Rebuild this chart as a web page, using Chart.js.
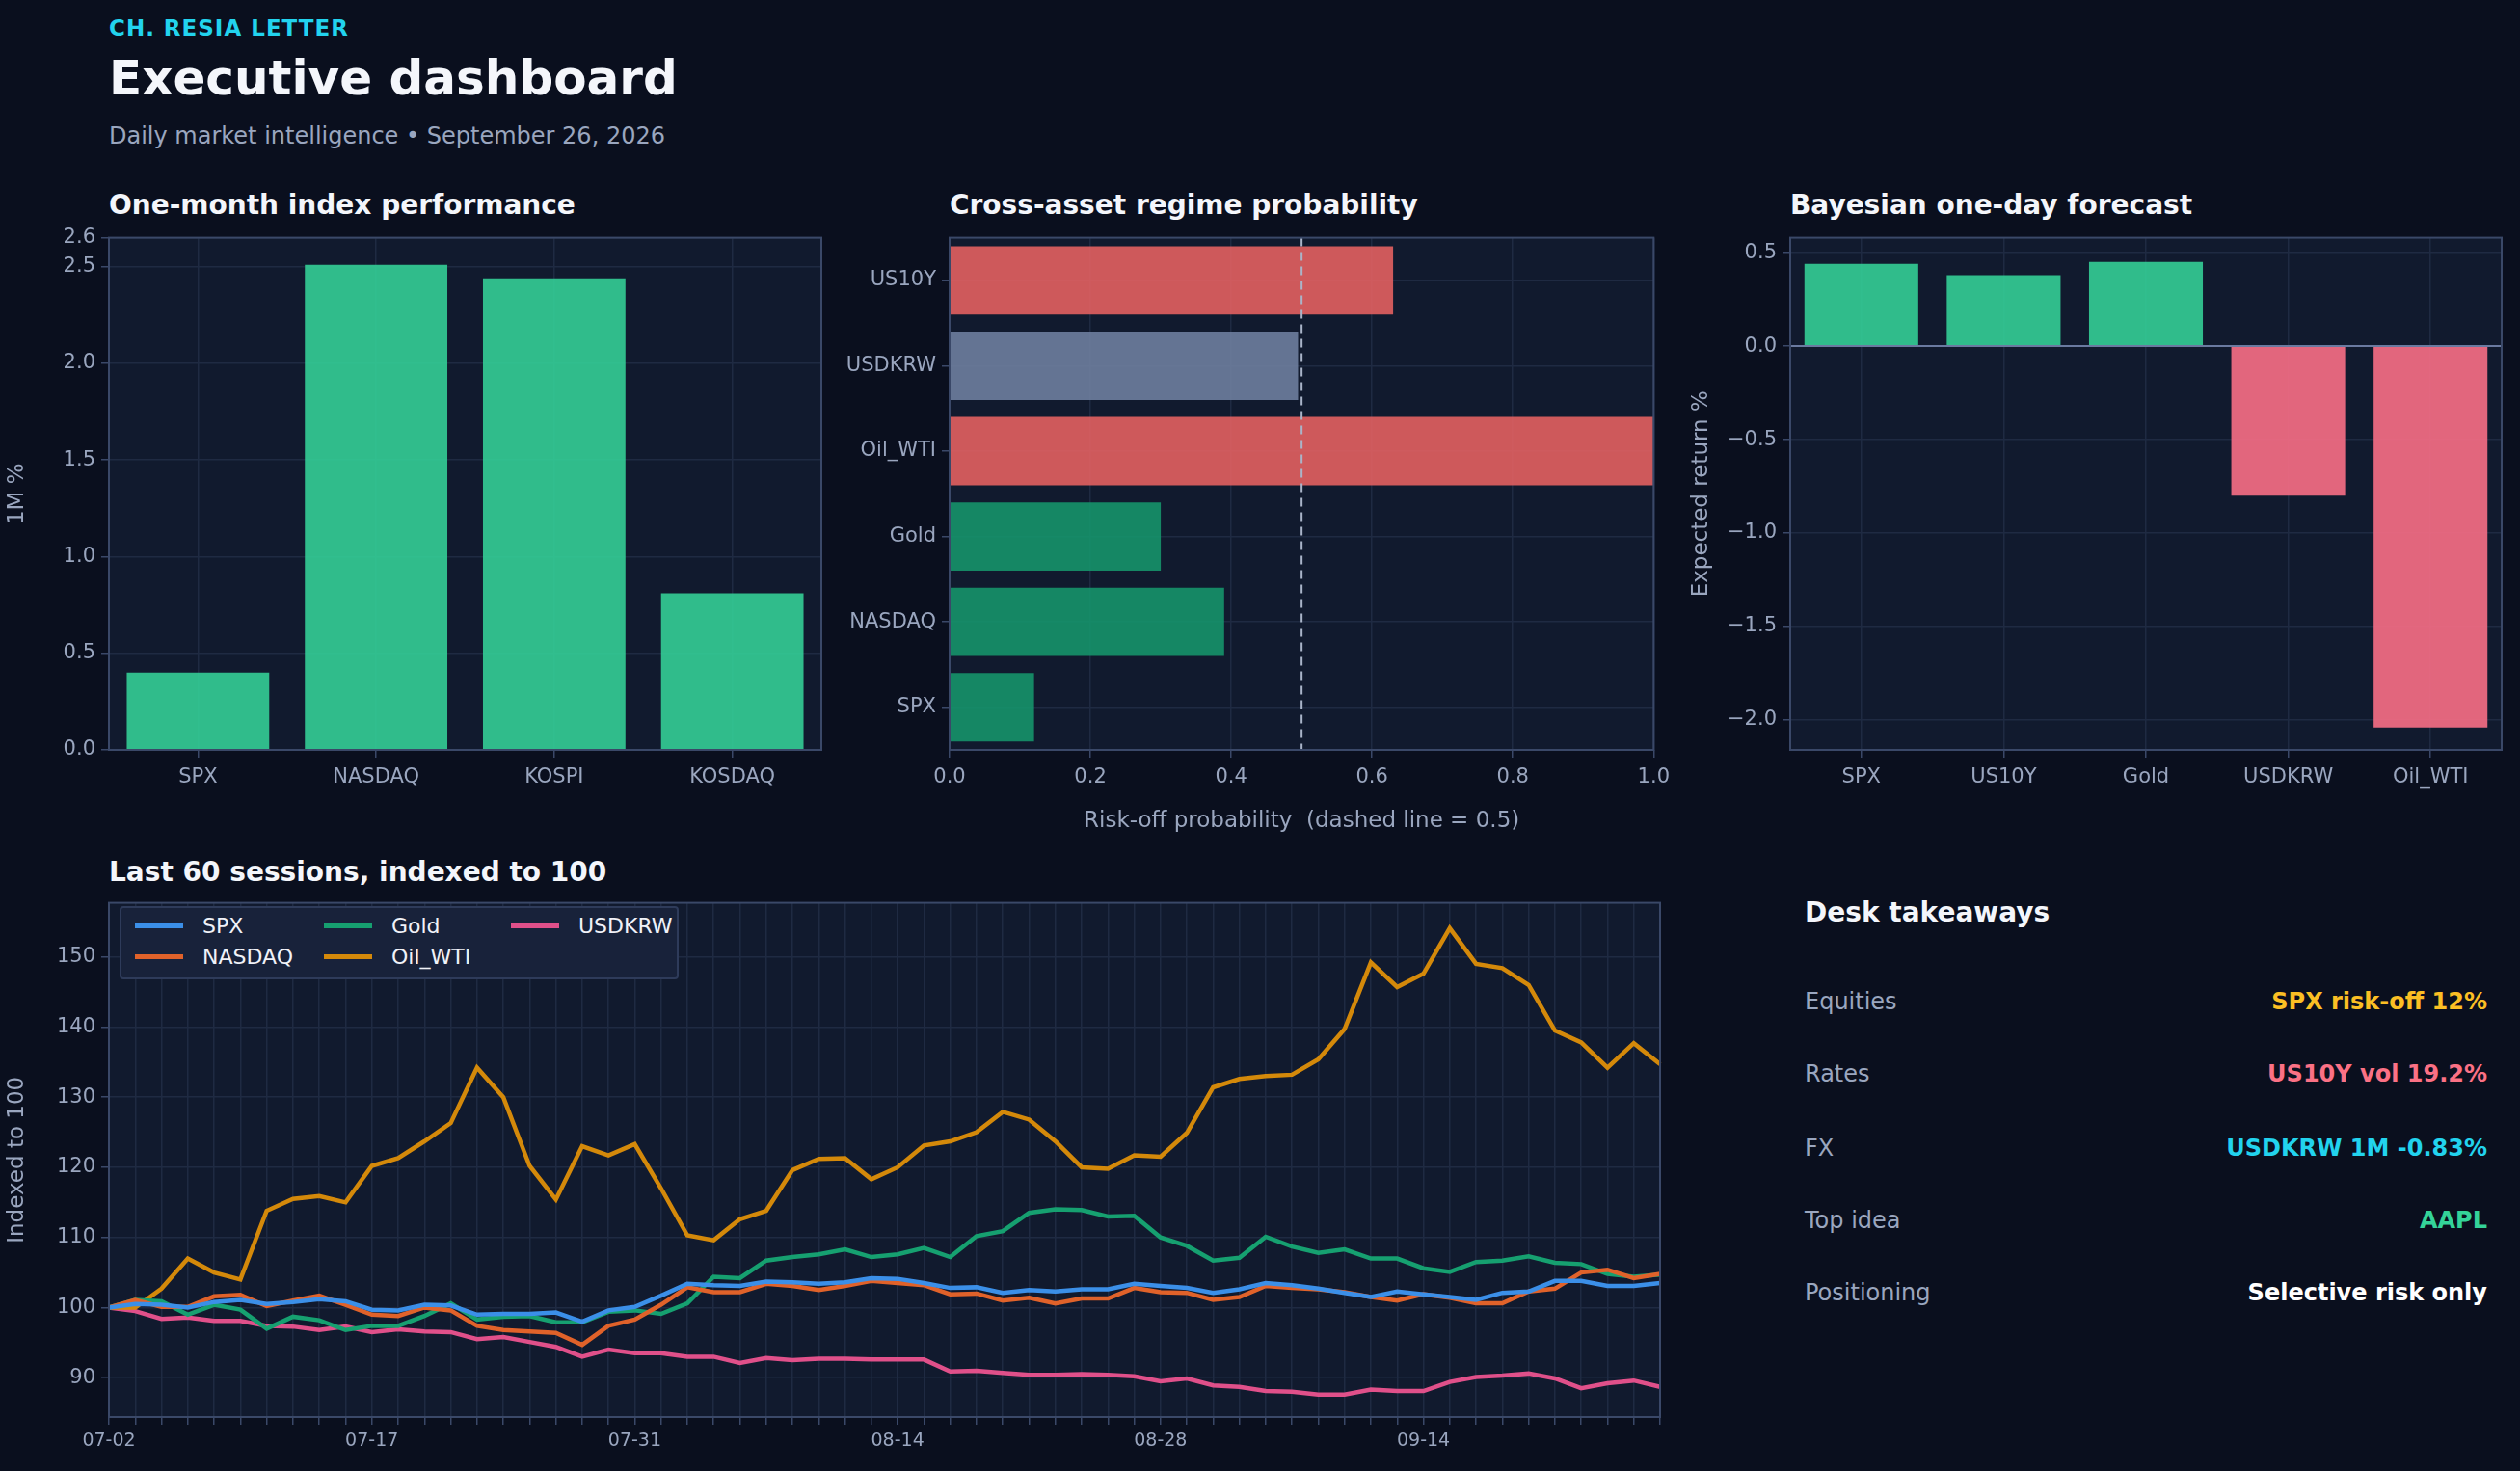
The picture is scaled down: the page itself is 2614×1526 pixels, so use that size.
<!DOCTYPE html>
<html><head><meta charset="utf-8">
<script src="https://cdn.jsdelivr.net/npm/chart.js@4/dist/chart.umd.min.js"></script>
<style>
body{margin:0;width:2614px;height:1526px;background:#0a0f1e;font-family:"DejaVu Sans",sans-serif;position:relative;overflow:hidden;color:#e8ecf4}
.abs{position:absolute}
.ttl{font-weight:bold;font-size:28px;color:#f4f6fb}
.row{position:absolute;left:1872px;width:708px;font-size:24px;display:flex;justify-content:space-between;color:#9aa6bf}
.row b{font-weight:bold}
.lg{position:absolute;left:124px;top:940px;width:576px;height:72px;background:#18223a;border:2px solid #2e3b5a;border-radius:4px;font-size:22px;color:#f0f2f8}
.lg span{position:absolute;display:flex;align-items:center}
.lg i{display:inline-block;width:50px;height:5px;margin-right:20px}
</style></head><body>
<div class="abs" style="left:113px;top:16px;font-size:23px;font-weight:bold;color:#22d3ee;letter-spacing:1px">CH. RESIA LETTER</div>
<div class="abs" style="left:113px;top:52px;font-size:50px;font-weight:bold;color:#f4f6fb">Executive dashboard</div>
<div class="abs" style="left:113px;top:127px;font-size:24px;color:#9aa6bf">Daily market intelligence • September 26, 2026</div>

<div class="abs ttl" style="left:113px;top:196px">One-month index performance</div>
<div class="abs ttl" style="left:985px;top:196px">Cross-asset regime probability</div>
<div class="abs ttl" style="left:1857px;top:196px">Bayesian one-day forecast</div>
<div class="abs ttl" style="left:113px;top:888px">Last 60 sessions, indexed to 100</div>

<div class="abs" style="left:0;top:228px;width:870px;height:602px"><canvas id="c1"></canvas></div>
<div class="abs" style="left:860px;top:228px;width:880px;height:642px"><canvas id="c2"></canvas></div>
<div class="abs" style="left:1747px;top:228px;width:867px;height:602px"><canvas id="c3"></canvas></div>
<div class="abs" style="left:0;top:918px;width:1740px;height:608px"><canvas id="c4"></canvas></div>

<div class="lg">
<span style="left:14px;top:6px"><i style="background:#3b8fe8"></i>SPX</span>
<span style="left:14px;top:38px"><i style="background:#e0622a"></i>NASDAQ</span>
<span style="left:210px;top:6px"><i style="background:#16a070"></i>Gold</span>
<span style="left:210px;top:38px"><i style="background:#d4890a"></i>Oil_WTI</span>
<span style="left:404px;top:6px"><i style="background:#e0508a"></i>USDKRW</span>
</div>

<div class="abs ttl" style="left:1872px;top:930px">Desk takeaways</div>
<div class="row" style="top:1025px"><span>Equities</span><b style="color:#fbbf24">SPX risk-off 12%</b></div>
<div class="row" style="top:1100px"><span>Rates</span><b style="color:#fb7185">US10Y vol 19.2%</b></div>
<div class="row" style="top:1177px"><span>FX</span><b style="color:#22d3ee">USDKRW 1M -0.83%</b></div>
<div class="row" style="top:1252px"><span>Top idea</span><b style="color:#34d399">AAPL</b></div>
<div class="row" style="top:1327px"><span>Positioning</span><b style="color:#ffffff">Selective risk only</b></div>

<script>
const perfLabels=['SPX','NASDAQ','KOSPI','KOSDAQ'];
const perfValues=[0.40,2.51,2.44,0.81];
const regimeLabels=['US10Y','USDKRW','Oil_WTI','Gold','NASDAQ','SPX'];
const regimeValues=[0.63,0.495,1.0,0.30,0.39,0.12];
const fcLabels=['SPX','US10Y','Gold','USDKRW','Oil_WTI'];
const fcValues=[0.44,0.38,0.45,-0.80,-2.04];
const dates=['07-02','07-03','07-06','07-07','07-08','07-09','07-10','07-13','07-14','07-15','07-17','07-20','07-21','07-22','07-23','07-24','07-27','07-28','07-29','07-30',
'07-31','08-03','08-04','08-05','08-06','08-07','08-10','08-11','08-12','08-13','08-14','08-17','08-18','08-19','08-20','08-21','08-24','08-25','08-26','08-27',
'08-28','08-31','09-01','09-02','09-03','09-04','09-07','09-08','09-09','09-10','09-14','09-15','09-16','09-17','09-18','09-21','09-22','09-23','09-24','09-25'];
const spx=[100,100.5,100.4,100,100.8,101.1,100.5,100.8,101.2,100.9,99.7,99.6,100.4,100.3,99,99.1,99.1,99.3,98,99.6,
100.1,101.7,103.4,103.2,103.1,103.7,103.6,103.4,103.6,104.2,104.1,103.5,102.8,102.9,102.1,102.5,102.3,102.6,102.6,103.4,
103.1,102.8,102.1,102.6,103.5,103.2,102.7,102.1,101.5,102.3,101.9,101.5,101.1,102.1,102.3,103.8,103.8,103.1,103.1,103.5];
const nasdaq=[100,101.1,100.1,100.1,101.6,101.8,100.2,101,101.7,100.4,99,98.8,100,99.6,97.4,96.8,96.6,96.4,94.7,97.4,
98.3,100.4,102.9,102.2,102.2,103.4,103.1,102.5,103.1,103.8,103.5,103.2,101.9,102,101,101.4,100.6,101.3,101.3,102.8,
102.2,102.1,101.1,101.5,103.1,102.8,102.6,102.2,101.5,101,101.9,101.4,100.6,100.6,102.3,102.7,105,105.4,104.2,104.8];
const gold=[100,101.1,100.9,99,100.4,99.7,97,98.7,98.2,96.8,97.4,97.4,98.8,100.6,98.3,98.7,98.8,97.9,97.9,99.4,
99.6,99.1,100.6,104.4,104.2,106.7,107.2,107.6,108.3,107.2,107.6,108.5,107.2,110.2,110.9,113.5,114,113.9,113,113.1,
110,108.8,106.7,107.1,110.1,108.7,107.8,108.3,107,107,105.6,105.1,106.5,106.7,107.3,106.4,106.2,104.8,104.4,104.7];
const oil=[100,100,102.7,107,105,104,113.8,115.5,115.9,115,120.2,121.3,123.7,126.3,134.2,130,120.2,115.4,123,121.7,
123.3,117,110.3,109.6,112.6,113.8,119.6,121.2,121.3,118.3,120,123.1,123.7,125,127.9,126.8,123.7,120,119.8,121.7,
121.5,124.9,131.4,132.6,133,133.2,135.4,139.7,149.2,145.7,147.6,154.1,149,148.4,146,139.5,137.8,134.2,137.7,134.7];
const usdkrw=[100,99.5,98.4,98.6,98.1,98.1,97.4,97.3,96.8,97.3,96.5,96.9,96.6,96.5,95.5,95.8,95.1,94.4,93,94,
93.5,93.5,93,93,92.1,92.8,92.5,92.7,92.7,92.6,92.6,92.6,90.9,91,90.7,90.4,90.4,90.5,90.4,90.2,
89.5,89.9,88.9,88.7,88.1,88,87.6,87.6,88.3,88.1,88.1,89.4,90.1,90.3,90.6,89.9,88.5,89.2,89.6,88.7];

Chart.defaults.font.family='"DejaVu Sans", sans-serif';
Chart.defaults.font.size=21;
Chart.defaults.color='#9aa6bf';
Chart.defaults.animation=false;
Chart.defaults.responsive=true;
Chart.defaults.maintainAspectRatio=false;
const GRID='#1f2a42', BORDER='#3a4868';
const bgPlug={id:'bg',beforeDraw(c){const a=c.chartArea,x=c.ctx;x.save();x.fillStyle='#111a2e';x.fillRect(a.left,a.top,a.right-a.left,a.bottom-a.top);x.restore();},
 afterDraw(c){const a=c.chartArea,x=c.ctx;x.save();x.strokeStyle=BORDER;x.lineWidth=2;x.strokeRect(a.left,a.top,a.right-a.left,a.bottom-a.top);x.restore();}};
const fixW=w=>s=>{s.width=w;}, fixH=h=>s=>{s.height=h;};
const axTitle=t=>({display:true,text:t,color:'#9aa6bf',font:{size:23}});
function grid(){return {color:GRID,lineWidth:1.5,tickColor:BORDER,tickLength:8,offset:false};}

new Chart(c1,{type:'bar',data:{labels:perfLabels,datasets:[{data:perfValues,backgroundColor:'rgba(52,211,153,0.88)',barPercentage:0.8,categoryPercentage:1}]},
options:{layout:{padding:{top:10,right:18}},plugins:{legend:{display:false},tooltip:{enabled:false}},
scales:{x:{grid:grid(),border:{display:false},afterFit:fixH(52),ticks:{padding:8}},
y:{min:0,max:2.65,ticks:{stepSize:0.5,callback:v=>v.toFixed(1),padding:6},grid:grid(),border:{display:false},afterFit:fixW(113),title:axTitle('1M %')}}},plugins:[bgPlug]});

const dashPlug={id:'dash',afterDatasetsDraw(c){const x=c.scales.x.getPixelForValue(0.5),a=c.chartArea,g=c.ctx;g.save();g.strokeStyle='#a9b4c8';g.lineWidth=2;g.setLineDash([9,6]);g.beginPath();g.moveTo(x,a.top);g.lineTo(x,a.bottom);g.stroke();g.restore();}};
new Chart(c2,{type:'bar',data:{labels:regimeLabels,datasets:[{data:regimeValues,backgroundColor:['rgba(232,98,98,0.88)','rgba(110,126,158,0.9)','rgba(232,98,98,0.88)','rgba(22,150,108,0.88)','rgba(22,150,108,0.88)','rgba(22,150,108,0.88)'],barPercentage:0.8,categoryPercentage:1}]},
options:{indexAxis:'y',layout:{padding:{top:10,right:18}},plugins:{legend:{display:false},tooltip:{enabled:false}},
scales:{x:{min:0,max:1,ticks:{stepSize:0.2,callback:v=>v.toFixed(1),padding:8},grid:grid(),border:{display:false},afterFit:fixH(92),title:axTitle('Risk-off probability  (dashed line = 0.5)')},
y:{grid:grid(),border:{display:false},afterFit:fixW(125),ticks:{padding:6}}}},plugins:[bgPlug,dashPlug]});

const zeroPlug={id:'zero',afterDatasetsDraw(c){const y=c.scales.y.getPixelForValue(0),a=c.chartArea,g=c.ctx;g.save();g.strokeStyle='#6a7aa0';g.lineWidth=2;g.beginPath();g.moveTo(a.left,y);g.lineTo(a.right,y);g.stroke();g.restore();}};
new Chart(c3,{type:'bar',data:{labels:fcLabels,datasets:[{data:fcValues,backgroundColor:fcValues.map(v=>v>=0?'rgba(52,211,153,0.88)':'rgba(244,108,132,0.92)'),barPercentage:0.8,categoryPercentage:1}]},
options:{layout:{padding:{top:10,right:19}},plugins:{legend:{display:false},tooltip:{enabled:false}},
scales:{x:{grid:grid(),border:{display:false},afterFit:fixH(52),ticks:{padding:8}},
y:{min:-2.16,max:0.58,ticks:{stepSize:0.5,callback:v=>(v<0?'\u2212':'')+Math.abs(v).toFixed(1),padding:6},afterBuildTicks(s){s.ticks=[-2,-1.5,-1,-0.5,0,0.5].map(v=>({value:v}));},grid:grid(),border:{display:false},afterFit:fixW(110),title:axTitle('Expected return %')}}},plugins:[bgPlug,zeroPlug]});

const ds=(d,c)=>({data:d,borderColor:c,borderWidth:4.5,pointRadius:0,tension:0,fill:false});
new Chart(c4,{type:'line',data:{labels:dates,datasets:[ds(spx,'#3b8fe8'),ds(nasdaq,'#e0622a'),ds(gold,'#16a070'),ds(oil,'#d4890a'),ds(usdkrw,'#e0508a')]},
options:{layout:{padding:{top:10,right:18}},plugins:{legend:{display:false},tooltip:{enabled:false}},
scales:{x:{grid:grid(),border:{display:false},afterFit:fixH(56),ticks:{autoSkip:false,maxRotation:0,font:{size:19},padding:6,callback:(v,i)=>i%10===0?dates[i]:''}},
y:{min:84.4,max:157.7,ticks:{stepSize:10,padding:6},afterBuildTicks(s){s.ticks=[90,100,110,120,130,140,150].map(v=>({value:v}));},grid:grid(),border:{display:false},afterFit:fixW(113),title:axTitle('Indexed to 100')}}},plugins:[bgPlug]});
</script></body></html>
